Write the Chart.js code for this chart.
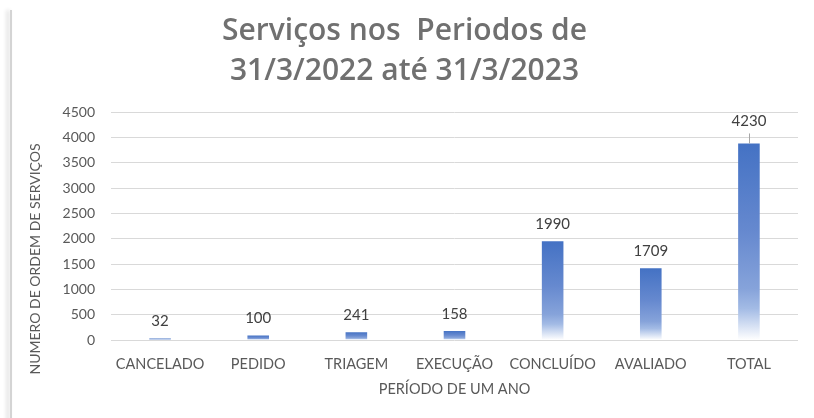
<!DOCTYPE html>
<html lang="pt">
<head>
  <meta charset="UTF-8" />
  <title>Serviços nos Periodos</title>
  <script src="https://cdn.jsdelivr.net/npm/chart.js"></script>
  <style>
    body {
      margin: 0;
      background: #fff;
      width: 814px;
      height: 418px;
      overflow: hidden;
      position: relative;
    }
    .edge {
      position: absolute;
      left: 10px;
      top: 10px;
      width: 2px;
      height: 430px;
      background: #d4d4d4;
      box-shadow: -3px 0 4px rgba(0, 0, 0, 0.2);
    }
    .wrap {
      position: absolute;
      left: 0;
      top: 0;
      width: 814px;
      height: 418px;
    }
  </style>
</head>
<body>
<div class="edge"></div>
<div class="wrap"><canvas id="chart" width="814" height="418"></canvas></div>

<script>
// data
const categories = ['CANCELADO', 'PEDIDO', 'TRIAGEM', 'EXECUÇÃO', 'CONCLUÍDO', 'AVALIADO', 'TOTAL'];
const barValues = [30, 90, 155, 180, 1950, 1415, 3880];
const valueLabels = ['32', '100', '241', '158', '1990', '1709', '4230'];
const errorTops = [null, null, null, null, null, null, 4080];
const yTicks = [0, 500, 1000, 1500, 2000, 2500, 3000, 3500, 4000, 4500];
const yTitle = 'NUMERO DE ORDEM DE SERVIÇOS';

const FONT = 'Lato, "Open Sans", sans-serif';

function barGradient(c) {
  const chart = c.chart;
  const y = chart.scales && chart.scales.y;
  if (!y || c.raw === undefined) return '#4472C4';
  const top = y.getPixelForValue(c.raw);
  const base = y.getPixelForValue(0);
  if (!isFinite(top) || !isFinite(base) || base - top < 1) return '#4472C4';
  const g = chart.ctx.createLinearGradient(0, top, 0, base);
  g.addColorStop(0, '#4472C4');
  g.addColorStop(0.45, '#6689cf');
  g.addColorStop(0.74, '#86a3da');
  g.addColorStop(0.84, '#a3bbe5');
  g.addColorStop(1, '#ffffff');
  return g;
}

// thin line above the TOTAL bar, value labels, y title
const labelPlugin = {
  id: 'labelPlugin',
  afterDatasetsDraw(chart) {
    const ctx = chart.ctx;
    const meta = chart.getDatasetMeta(0);
    const y = chart.scales.y;
    ctx.save();
    meta.data.forEach((bar, i) => {
      let anchor = bar.y;
      if (errorTops[i] != null) {
        const ey = y.getPixelForValue(errorTops[i]);
        ctx.strokeStyle = '#a6a6a6';
        ctx.lineWidth = 1;
        ctx.beginPath();
        ctx.moveTo(Math.round(bar.x) + 0.5, bar.y);
        ctx.lineTo(Math.round(bar.x) + 0.5, ey);
        ctx.stroke();
        anchor = ey + 5;
      }
      ctx.fillStyle = '#404040';
      ctx.font = '15px ' + FONT;
      ctx.textAlign = 'center';
      ctx.textBaseline = 'middle';
      ctx.fillText(valueLabels[i], bar.x, anchor - 17);
    });

    ctx.translate(35, 259);
    ctx.rotate(-Math.PI / 2);
    ctx.fillStyle = '#595959';
    ctx.font = '14px ' + FONT;
    ctx.fillText(yTitle, 0, 0);
    ctx.restore();
  }
};

new Chart(document.getElementById('chart'), {
  type: 'bar',
  data: {
    labels: categories,
    datasets: [{
      data: barValues,
      backgroundColor: barGradient,
      borderWidth: 0,
      categoryPercentage: 1,
      barPercentage: 0.22
    }]
  },
  options: {
    responsive: false,
    animation: false,
    devicePixelRatio: 1,
    layout: { padding: { left: 11, right: 16, top: 12, bottom: 20 } },
    plugins: {
      legend: { display: false },
      tooltip: { enabled: false },
      title: {
        display: true,
        text: ['Serviços nos  Periodos de', '31/3/2022 até 31/3/2023'],
        color: '#707070',
        font: { family: '"Open Sans", Lato, sans-serif', size: 30, weight: '600', lineHeight: 1.32 },
        padding: { top: 0, bottom: 21 }
      }
    },
    scales: {
      x: {
        grid: { display: false, drawTicks: false },
        border: { display: false },
        ticks: { color: '#595959', font: { family: FONT, size: 14.5 }, padding: 16, maxRotation: 0, autoSkip: false },
        title: {
          display: true,
          text: 'PERÍODO DE UM ANO',
          color: '#595959',
          font: { family: FONT, size: 14.5 },
          padding: { top: 4, bottom: 0 }
        },
        afterFit(s) { s.height = 58; }
      },
      y: {
        min: 0,
        max: 4500,
        afterBuildTicks(s) { s.ticks = yTicks.map(v => ({ value: v })); },
        grid: { color: '#d9d9d9', drawTicks: false, lineWidth: 1 },
        border: { display: false },
        ticks: {
          color: '#595959',
          font: { family: FONT, size: 14 },
          padding: 16,
          callback: v => String(v)
        },
        afterFit(s) { s.width = 100; }
      }
    }
  },
  plugins: [labelPlugin]
});
</script>
</body>
</html>
